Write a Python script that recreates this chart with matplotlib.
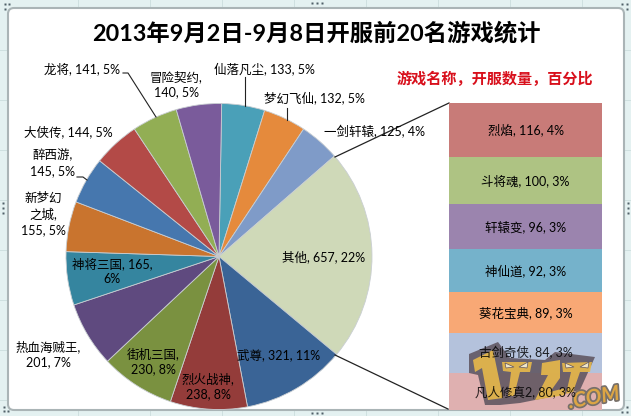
import matplotlib
matplotlib.use('Agg')
import matplotlib.pyplot as plt
import matplotlib.patheffects as pe
from matplotlib.patches import FancyBboxPatch, Polygon

# pie slices, clockwise from the top
pie_names = ['仙落凡尘', '梦幻飞仙', '一剑轩辕', '其他', '武尊', '烈火战神', '街机三国',
             '热血海贼王', '神将三国', '新梦幻之城', '醉西游', '大侠传', '龙将', '冒险契约']
pie_values = [133, 132, 125, 657, 321, 238, 230, 201, 165, 155, 145, 144, 141, 140]
pie_colors = ['#4aa0b8', '#e58a3c', '#7f9bc8', '#cfd9b8', '#3a6496', '#943c3a', '#7a9140',
              '#5f4a7f', '#35859f', '#c9742e', '#4677ae', '#b34a47', '#92ae54', '#7a5b9b']

# the "其他" slice broken out into the stacked bar
bar_names = ['烈焰', '斗将魂', '轩辕变', '神仙道', '葵花宝典', '古剑奇侠', '凡人修真2']
bar_values = [116, 100, 96, 92, 89, 84, 80]
bar_colors = ['#c87b78', '#aec383', '#9b84ae', '#75b2cb', '#f8a875', '#b4c2dc', '#dfb0b0']

title = '2013年9月2日-9月8日开服前20名游戏统计'
subtitle = '游戏名称，开服数量，百分比'

plt.rcParams['font.family'] = ['Lato', 'Noto Sans CJK SC', 'DejaVu Sans']

W, H = 631, 416
fig = plt.figure(figsize=(W / 100, H / 100), dpi=100, facecolor='#e4f1f1')

# whole figure axes working in pixels, y going down
ax = fig.add_axes([0, 0, 1, 1])

# sheet gridlines around the chart
for x in [78, 150, 222, 294, 366, 438, 510, 582]:
    ax.plot([x, x], [0, 416], color='#cfe0e0', lw=0.7)
for y in [50, 100, 150, 200, 250, 300, 350, 400]:
    ax.plot([0, 631], [y, y], color='#cfe0e0', lw=0.7)

ax.add_patch(FancyBboxPatch((8, 8), 616, 402, boxstyle='round,pad=0,rounding_size=6',
                            fc='white', ec='#aab4b6', lw=1.5, zorder=2))

# selection handles
for hx, hy in [(5, 4), (9, 4), (5, 9), (4, 411), (8, 411), (4, 407), (622, 4), (627, 4),
               (627, 9), (622, 412), (627, 412), (627, 407), (312, 3), (317, 3), (322, 3),
               (3, 203), (3, 208), (3, 213), (628, 203), (628, 208), (628, 213),
               (312, 413), (317, 413), (322, 413)]:
    ax.plot(hx, hy, 's', ms=1.5, color='#506068', mec='none', zorder=3)

wedges, _ = ax.pie(pie_values, colors=pie_colors, center=(219, 256.5), radius=153,
                   startangle=-89, counterclock=True,
                   wedgeprops=dict(edgecolor='#c9ced2', linewidth=0.6, zorder=4))
ax.set_xlim(0, W)
ax.set_ylim(H, 0)
ax.set_aspect('auto')
ax.axis('off')

total = sum(pie_values)


def label(name, value, sep=', '):
    return f'{name}{sep}{value}, {round(value / total * 100)}%'


# hand placed pie labels, pixel centre of each block
LBL = dict(fontsize=9, color='black', ha='center', va='center', zorder=6, linespacing=1.35)
val = dict(zip(pie_names, pie_values))
ax.text(82, 69, label('龙将', val['龙将']), **LBL)
ax.text(176, 84, f"冒险契约,\n{val['冒险契约']}, 5%", **LBL)
ax.text(264, 69, label('仙落凡尘', val['仙落凡尘']), **LBL)
ax.text(314, 98, label('梦幻飞仙', val['梦幻飞仙']), **LBL)
ax.text(374, 132, label('一剑轩辕', val['一剑轩辕']), **LBL)
ax.text(68, 132, label('大侠传', val['大侠传']), **LBL)
ax.text(53, 163, f"醉西游,\n{val['醉西游']}, 5%", **LBL)
ax.text(43, 214, f"新梦幻\n之城,\n{val['新梦幻之城']}, 5%", **LBL)
ax.text(112, 271, f"神将三国, {val['神将三国']},\n6%", **LBL)
ax.text(48, 354, f"热血海贼王,\n{val['热血海贼王']}, 7%", **LBL)
ax.text(153, 361, f"街机三国,\n{val['街机三国']}, 8%", **LBL)
ax.text(208, 386, f"烈火战神,\n{val['烈火战神']}, 8%", **LBL)
ax.text(279, 355, label('武尊', val['武尊']), **LBL)
ax.text(324, 257, label('其他', val['其他']), **LBL)

# leader lines
for xs, ys in [([123, 128, 156], [73, 73, 117]),
               ([244.5, 244.5], [77, 106]),
               ([286.5, 286.5], [108, 120]),
               ([77, 83, 87], [177, 177, 180])]:
    ax.plot(xs, ys, color='#222222', lw=0.8, zorder=5)

# connectors between pie and bar
ax.plot([335, 449], [157, 103], color='#222222', lw=0.9, zorder=5)
ax.plot([335, 448], [355, 409], color='#222222', lw=0.9, zorder=5)

ax.text(316, 33, title, fontsize=16.8, fontweight='bold', ha='center', va='center',
        color='black', zorder=6)
ax.text(494.5, 79, subtitle, fontsize=10.9, fontweight='bold', ha='center', va='center',
        color='#d8101c', zorder=6)

# stacked bar gets its own axes, value scale runs top to bottom
ax2 = fig.add_axes([449 / W, 1 - 410 / H, 153 / W, 307 / H], zorder=3)
ax2.set_xlim(0, 1)
ax2.set_ylim(sum(bar_values), 0)
ax2.axis('off')
bottom = 0
for name, v, c in zip(bar_names, bar_values, bar_colors):
    ax2.bar(0.5, v, width=1, bottom=bottom, color=c, linewidth=0)
    # the last two labels go on top of the logo further down
    if name not in bar_names[-2:]:
        ax2.text(0.5, bottom + v / 2, label(name, v), fontsize=9, ha='center', va='center',
                 color='black', zorder=6)
    bottom += v

# watermark logo, rough outline, sits over the bar
ax3 = fig.add_axes([0, 0, 1, 1], zorder=4)
ax3.set_xlim(0, W)
ax3.set_ylim(H, 0)
ax3.axis('off')
dark = [(469, 354), (498, 342), (510, 358), (545, 360), (555, 352), (595, 357), (580, 390),
        (560, 395), (520, 403), (500, 405), (485, 405), (478, 375), (469, 373)]
ax3.add_patch(Polygon(dark, fc='#5f5560', ec='none', alpha=0.88))
for poly in [[(473, 360), (493, 350), (503, 398), (488, 400), (482, 368), (475, 372)],
             [(502, 362), (532, 362), (530, 372), (520, 372), (514, 396), (508, 396), (511, 372), (503, 371)],
             [(542, 363), (560, 360), (560, 378), (550, 392), (565, 388), (565, 395), (535, 400), (548, 375), (541, 375)],
             [(562, 363), (592, 362), (590, 372), (580, 372), (573, 392), (566, 394), (571, 372), (563, 372)]]:
    ax3.add_patch(Polygon(poly, fc='#e8b94a', ec='none', alpha=0.9))
# eyes on the two T shapes
for eye in [[(505, 363), (514, 367), (506, 368)], [(528, 362), (519, 367), (527, 368)],
            [(565, 363), (574, 367), (566, 368)], [(589, 362), (580, 367), (588, 368)]]:
    ax3.add_patch(Polygon(eye, fc='#efe6c8', ec='#5f5560', lw=0.5))
ax3.text(594, 398, '.COM', fontsize=15, fontweight='bold', style='italic', color='#dca544',
         ha='center', va='center', rotation=10,
         path_effects=[pe.withStroke(linewidth=2.5, foreground='#77706a')])

# the bottom labels show through the logo in the original
for name, v, y in [('古剑奇侠', 84, 353), ('凡人修真2', 80, 392)]:
    ax3.text(525.5, y, label(name, v), fontsize=9, ha='center', va='center', color='black',
             alpha=0.85)

fig.savefig('out.png', dpi=100, facecolor=fig.get_facecolor())
